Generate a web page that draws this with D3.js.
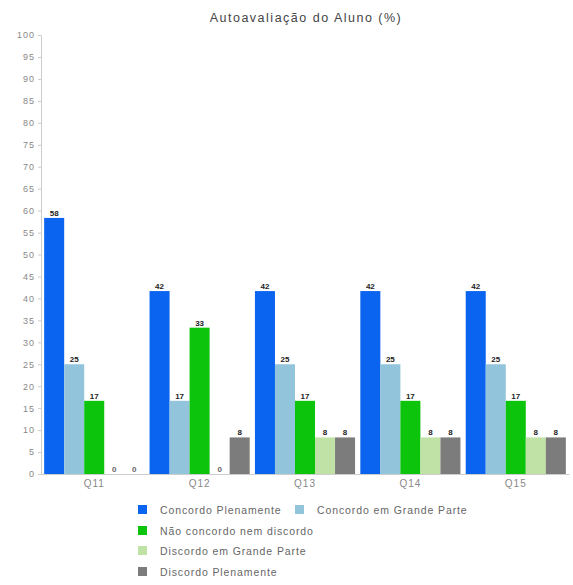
<!DOCTYPE html>
<html><head><meta charset="utf-8">
<script src="https://cdn.jsdelivr.net/npm/d3@7"></script>
<style>body{margin:0;background:#fff;font-family:"Liberation Sans",Arial,sans-serif}</style>
</head><body><svg id="c" width="573" height="585"></svg>
<script>
const categories = ["Q11","Q12","Q13","Q14","Q15"];
const seriesNames = ["Concordo Plenamente","Concordo em Grande Parte","Não concordo nem discordo","Discordo em Grande Parte","Discordo Plenamente"];
const concordoPlenamente = [58.33,41.67,41.67,41.67,41.67];
const concordoGrandeParte = [25,16.67,25,25,25];
const naoConcordo = [16.67,33.33,16.67,16.67,16.67];
const discordoGrandeParte = [0,0,8.33,8.33,8.33];
const discordoPlenamente = [0,8.33,8.33,8.33,8.33];
const yTicks = d3.range(0,101,5);
const colors = ["#0a64f0","#92c5dc","#0cc40c","#c0e2a6","#7c7c7c"];
const series = [concordoPlenamente,concordoGrandeParte,naoConcordo,discordoGrandeParte,discordoPlenamente];

const svg = d3.select("#c");
const m = {left:41, right:4, top:35, bottom:111};
const W = 573, H = 585;
const x0 = d3.scaleBand().domain(categories).range([m.left, W-m.right]).paddingInner(0.05).paddingOuter(0.03);
const x1 = d3.scaleBand().domain(d3.range(seriesNames.length)).range([0, x0.bandwidth()]);
const y = d3.scaleLinear().domain([0,100]).range([H-m.bottom, m.top]);

svg.append("text").attr("x",306).attr("y",22).attr("text-anchor","middle")
  .attr("font-size",12.5).attr("letter-spacing",1.5).attr("fill","#444").text("Autoavaliação do Aluno (%)");

const ya = svg.append("g").attr("transform",`translate(${m.left},0)`)
  .call(d3.axisLeft(y).tickValues(yTicks).tickSize(3).tickPadding(3));
ya.select(".domain").attr("stroke","#ccc");
ya.selectAll(".tick line").attr("stroke","#ccc");
ya.selectAll("text").attr("fill","#888").attr("font-size",9).attr("letter-spacing",1).attr("font-family","Liberation Sans, Arial");

const xa = svg.append("g").attr("transform",`translate(0,${H-m.bottom})`)
  .call(d3.axisBottom(x0).tickSize(0).tickPadding(6));
xa.select(".domain").attr("stroke","#ccc");
xa.selectAll("text").attr("fill","#888").attr("font-size",10).attr("letter-spacing",1).attr("font-family","Liberation Sans, Arial");

const g = svg.selectAll("g.grp").data(categories).enter().append("g")
  .attr("transform",d=>`translate(${x0(d)},0)`);
g.each(function(cat,ci){
  const sel = d3.select(this);
  series.forEach((s,si)=>{
    const v = s[ci];
    sel.append("rect").attr("x",x1(si)).attr("width",x1.bandwidth())
      .attr("y",y(v)).attr("height",y(0)-y(v)).attr("fill",colors[si]);
    sel.append("text").attr("x",x1(si)+x1.bandwidth()/2).attr("y",y(v)-2)
      .attr("text-anchor","middle").attr("font-size",8).attr("font-weight","bold")
      .attr("fill", v===0 ? "#666" : "#222").text(Math.round(v));
  });
});

const legendPos = [[138,510],[295,510],[138,531],[138,551],[138,572]];
const lg = svg.append("g").selectAll("g").data(seriesNames).enter().append("g")
  .attr("transform",(d,i)=>`translate(${legendPos[i][0]},${legendPos[i][1]})`);
lg.append("rect").attr("x",0).attr("y",-5).attr("width",9).attr("height",9).attr("fill",(d,i)=>colors[i]);
lg.append("text").attr("x",22).attr("y",4).attr("font-size",10.5).attr("letter-spacing",0.9).attr("fill","#666").text(d=>d);
</script></body></html>
